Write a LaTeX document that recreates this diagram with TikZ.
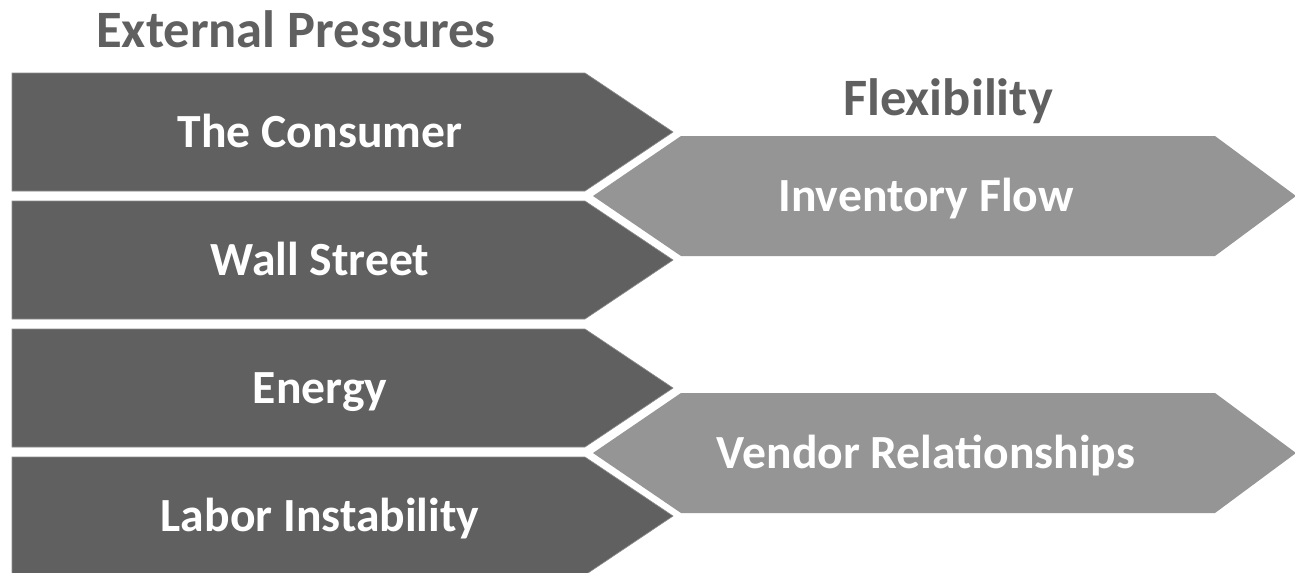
\documentclass[tikz,border=0pt]{standalone}
\usepackage{fontspec}
\setmainfont{Carlito}
\definecolor{pressgray}{RGB}{96,96,96}
\definecolor{flexgray}{RGB}{149,149,149}
\definecolor{edgegray}{RGB}{140,140,140}

\begin{document}
\begin{tikzpicture}[x=0.75pt,y=-0.75pt]
    \tikzstyle{pressure}=[fill=pressgray, draw=edgegray, line width=0.5pt]
    \tikzstyle{flex}=[fill=flexgray, preaction={draw=white, line width=7.5pt, line join=miter}]
    \tikzstyle{boxtext}=[font=\bfseries\fontsize{35.7}{40}\selectfont, text=white, text height=23pt, text depth=0pt, inner sep=0pt]
    \tikzstyle{heading}=[font=\bfseries\fontsize{39.4}{44}\selectfont, text=pressgray, text height=25.4pt, text depth=0pt, inner sep=0pt]

    \useasboundingbox (0,0) rectangle (1295,572);

    % Draw the external pressures
    \foreach \name/\y/\txt in {1/73/The Consumer, 2/201/Wall Street, 3/329/Energy, 4/457/Labor Instability} {
        \path[pressure] (12,\y) -- (585,\y) -- (673,\y+59) -- (585,\y+118) -- (12,\y+118) -- cycle;
        \node[boxtext] (P-\name) at (320,\y+59) {\txt};
    }

    % Draw the flexibility arrows on top
    \foreach \name/\y/\txt in {1/136/Inventory Flow, 2/393/Vendor Relationships} {
        \path[flex] (593,\y+60) -- (681,\y) -- (1215,\y) -- (1296,\y+60) -- (1215,\y+120) -- (681,\y+120) -- cycle;
        \node[boxtext] (F-\name) at (926,\y+60) {\txt};
    }

    % Column headings
    \node[heading] (ext) at (296,30.5) {External Pressures};
    \node[heading] (flexhead) at (948,99) {Flexibility};
\end{tikzpicture}
\end{document}
